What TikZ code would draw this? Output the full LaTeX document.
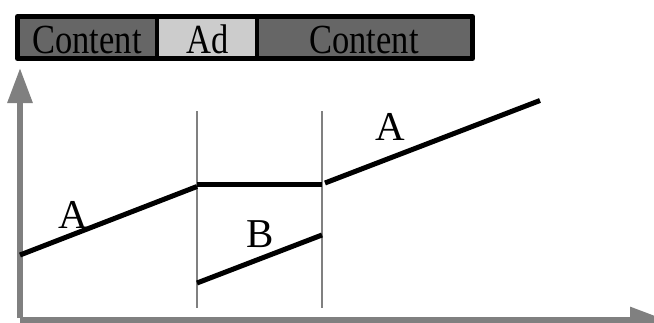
\documentclass[tikz,border=0pt]{standalone}
\usepackage{fontspec}
\setmainfont{Liberation Serif}
\usetikzlibrary{arrows.meta}
\definecolor{darkcell}{HTML}{666666}
\definecolor{lightcell}{HTML}{CCCCCC}
\definecolor{axisgray}{HTML}{808080}
\tikzset{
  cell/.style={draw=none, minimum height=42pt, inner sep=0pt, outer sep=0pt},
  celltext/.style={font=\fontsize{34.5}{40}\selectfont, anchor=base, inner sep=0pt},
  lbl/.style={font=\fontsize{41}{46}\selectfont, anchor=base, inner sep=0pt},
  axis/.style={draw=axisgray, line width=6pt, -{Triangle[length=35pt,width=24pt]}},
  guide/.style={draw=axisgray, line width=1.4pt},
  curve/.style={draw=black, line width=5pt}
}
\begin{document}
\begin{tikzpicture}[x=1pt,y=-1pt]
\useasboundingbox (0,0) rectangle (654,322);
\clip (0,0) rectangle (654,322);
% top bar cells
\node[cell, fill=darkcell, minimum width=140pt] (c1) at (87,37.5) {};
\node[cell, fill=lightcell, minimum width=98pt] (ad) at (207,37.5) {};
\node[cell, fill=darkcell, minimum width=216pt] (c2) at (366,37.5) {};
\node[celltext] (t1) at (87,53) {\scalebox{1}[1.2]{Content}};
\node[celltext] (t2) at (207.5,53) {\scalebox{1}[1.2]{Ad}};
\node[celltext] (t3) at (364,53) {\scalebox{1}[1.2]{Content}};
\draw[line width=5pt, line join=round] (17.5,16.5) rectangle (472.5,58.5);
\draw[line width=4pt] (157,16.5) -- (157,58.5);
\draw[line width=4pt] (257,16.5) -- (257,58.5);
% axes
\coordinate (o1) at (20,318);
\coordinate (ytip) at (20,68);
\coordinate (o2) at (20,319.5);
\coordinate (xtip) at (665,319.5);
\draw[axis] (o1) -- (ytip);
\draw[axis] (o2) -- (xtip);
% guides
\coordinate (g1t) at (197,111);
\coordinate (g1b) at (197,308);
\coordinate (g2t) at (322,111);
\coordinate (g2b) at (322,308);
\draw[guide] (g1t) -- (g1b);
\draw[guide] (g2t) -- (g2b);
% lines
\coordinate (a1s) at (20,255);
\coordinate (a1e) at (197,186.5);
\coordinate (hs) at (197,184);
\coordinate (he) at (322,184);
\coordinate (a2s) at (325,183);
\coordinate (a2e) at (540,100.5);
\coordinate (bs) at (197,283);
\coordinate (be) at (322,235);
\draw[curve] (a1s) -- (a1e);
\draw[curve] (hs) -- (he);
\draw[curve] (a2s) -- (a2e);
\draw[curve] (bs) -- (be);
% labels
\node[lbl] (la1) at (73,228) {A};
\node[lbl] (lb) at (260.5,247) {B};
\node[lbl] (la2) at (390,140) {A};
\end{tikzpicture}
\end{document}
